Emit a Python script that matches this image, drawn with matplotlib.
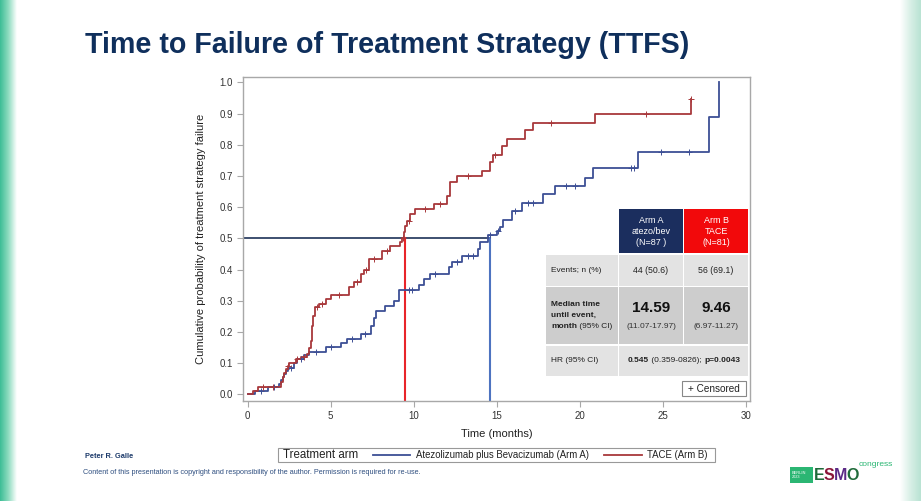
import numpy as np
import matplotlib
matplotlib.use("Agg")
import matplotlib.pyplot as plt
from matplotlib.patches import Rectangle
from matplotlib.colors import LinearSegmentedColormap

# ---------------- data ----------------
tace_t = [0, 0.3, 0.6, 2.0, 2.1, 2.2, 2.3, 2.4, 2.5, 2.9, 3.2, 3.6, 3.7, 3.8, 3.9, 3.95,
          4.05, 4.3, 4.7, 5.0, 6.1, 6.4, 6.8, 7.0, 7.3, 8.1, 8.6, 9.15, 9.3, 9.4, 9.5,
          9.6, 9.8, 10.05, 11.2, 12.0, 12.2, 12.6, 14.1, 14.6, 14.8, 15.3, 15.6, 16.7,
          17.2, 20.9, 26.7]
tace_p = [0, 0.012, 0.025, 0.04, 0.055, 0.07, 0.08, 0.09, 0.10, 0.115, 0.12, 0.13, 0.15,
          0.17, 0.22, 0.25, 0.28, 0.29, 0.305, 0.32, 0.345, 0.36, 0.385, 0.40, 0.435,
          0.46, 0.476, 0.49, 0.50, 0.52, 0.54, 0.556, 0.577, 0.593, 0.61, 0.636, 0.68,
          0.70, 0.716, 0.745, 0.767, 0.795, 0.82, 0.847, 0.87, 0.90, 0.946]
tace_cens = [0.9, 1.5, 2.45, 3.0, 3.4, 4.15, 4.5, 5.5, 6.6, 7.15, 7.6, 8.4, 9.35, 9.7,
             10.7, 11.6, 13.3, 14.9, 18.3, 24.0, 26.7]

atezo_t = [0, 0.42, 1.2, 1.9, 2.0, 2.1, 2.2, 2.3, 2.4, 2.5, 2.8, 3.0, 3.4, 3.7, 4.7, 5.6,
           6.0, 6.8, 7.4, 7.6, 7.7, 8.3, 8.8, 9.1, 10.3, 10.6, 11.0, 12.1, 12.3, 12.9,
           13.9, 14.0, 14.45, 15.0, 15.2, 15.4, 15.9, 16.5, 17.8, 18.5, 20.3, 20.8, 23.5,
           27.8, 28.4]
atezo_p = [0, 0.01, 0.023, 0.035, 0.045, 0.055, 0.065, 0.075, 0.08, 0.085, 0.10, 0.115,
           0.125, 0.135, 0.151, 0.164, 0.178, 0.194, 0.22, 0.245, 0.268, 0.284, 0.30,
           0.334, 0.351, 0.37, 0.386, 0.407, 0.423, 0.444, 0.466, 0.487, 0.51, 0.524,
           0.535, 0.56, 0.588, 0.614, 0.642, 0.668, 0.694, 0.726, 0.776, 0.889, 1.0]
atezo_cens = [0.8, 1.6, 2.6, 3.2, 4.1, 5.0, 6.3, 7.05, 9.7, 9.9, 11.3, 12.6, 13.3, 13.6,
              14.6, 15.1, 16.1, 16.9, 17.2, 19.2, 19.7, 23.1, 23.3, 24.9, 26.6]

median_a = 14.59
median_b = 9.46

x_ticks = [0, 5, 10, 15, 20, 25, 30]
y_ticks = [0.0, 0.1, 0.2, 0.3, 0.4, 0.5, 0.6, 0.7, 0.8, 0.9, 1.0]

title = "Time to Failure of Treatment Strategy (TTFS)"
x_label = "Time (months)"
y_label = "Cumulative probability of treatment strategy failure"
legend_title = "Treatment arm"
series_names = ["Atezolizumab plus Bevacizumab (Arm A)", "TACE (Arm B)"]
header_a = "Arm A\natezo/bev\n(N=87 )"
header_b = "Arm B\nTACE\n(N=81)"
events_a, events_b = "44 (50.6)", "56 (69.1)"
med_a_txt, med_b_txt = "14.59", "9.46"
ci_a_txt, ci_b_txt = "(11.07-17.97)", "(6.97-11.27)"

# ---------------- style ----------------
BLUE = "#3d4f95"
RED = "#a8383b"
VRED = "#e8252a"
VBLUE = "#4d73c0"
NAVY = "#1c3157"
plt.rcParams['font.family'] = ["Liberation Sans", "DejaVu Sans"]

W, H = 921, 501
fig = plt.figure(figsize=(W / 100, H / 100), dpi=100)
fig.patch.set_facecolor("white")

# background decor (pixel coordinates)
bg = fig.add_axes([0, 0, 1, 1], zorder=0)
grad = np.linspace(0, 1, 64)[None, :]
cm_l = LinearSegmentedColormap.from_list("l", ["#3dbd96", "#8fdcc0", "#ffffff"])
bg.imshow(grad, extent=[0, 16, H, 0], cmap=cm_l, aspect="auto", zorder=0)
cm_r = LinearSegmentedColormap.from_list("r", ["#ffffff", "#d8efe6", "#b9e3d3"])
bg.imshow(grad, extent=[900, W, H, 0], cmap=cm_r, aspect="auto", zorder=0)
bg.set_xlim(0, W)
bg.set_ylim(H, 0)
bg.axis("off")

bg.text(85, 45, title, fontsize=20.6, fontweight="bold", color="#0f2f5c",
        va="center", ha="left")
bg.text(85, 456, "Peter R. Galle", fontsize=5.3, fontweight="bold", color="#1d3b6b",
        va="center")
bg.text(83, 473, "Content of this presentation is copyright and responsibility of the author. "
        "Permission is required for re-use.", fontsize=5.2, color="#2f4f80",
        va="center")

renderer = fig.canvas.get_renderer()

# ESMO logo
bg.add_patch(Rectangle((790, 467), 23, 16, facecolor="#2bb673", edgecolor="none"))
bg.text(792, 475, "BERLIN\n2023", fontsize=2.8, color="white", va="center",
        linespacing=1.0)
xx = 814
for ch, col in [("E", "#1f6b3a"), ("S", "#8a1538"), ("M", "#5b2a86"), ("O", "#1f6b3a")]:
    t = bg.text(xx, 476, ch, fontsize=11.5, fontweight="bold", color=col,
                va="center", ha="left")
    xx += t.get_window_extent(renderer).width - 1
bg.text(xx + 1, 464, "congress", fontsize=6, color="#2bb673", va="center")

# ---------------- main axes ----------------
L, R, T, B = 242.7, 750, 76.7, 401
ax = fig.add_axes([L / W, 1 - B / H, (R - L) / W, (B - T) / H], zorder=1)
ax.set_facecolor("white")
ax.set_xlim(-0.3, 30.26)
ax.set_ylim(-0.021, 1.018)


def step_at(ts, ps, tc):
    idx = np.searchsorted(np.asarray(ts), np.asarray(tc), side="right") - 1
    return np.asarray(ps)[idx]


ax.step(atezo_t, atezo_p, where="post", color=BLUE, lw=1.3, zorder=3)
ax.step(tace_t, tace_p, where="post", color=RED, lw=1.3, zorder=3)
ax.plot(atezo_cens, step_at(atezo_t, atezo_p, atezo_cens), ls="none", marker="+",
        ms=4, mew=0.7, color=BLUE, zorder=4)
ax.plot(tace_cens, step_at(tace_t, tace_p, tace_cens), ls="none", marker="+",
        ms=4, mew=0.7, color=RED, zorder=4)

ax.plot([ax.get_xlim()[0], median_a], [0.5, 0.5], color=NAVY, lw=1.2, zorder=2)
ax.plot([median_b, median_b], [ax.get_ylim()[0], 0.5], color=VRED, lw=1.5, zorder=2)
ax.plot([median_a, median_a], [ax.get_ylim()[0], 0.5], color=VBLUE, lw=1.5, zorder=2)

ax.set_xticks(x_ticks)
ax.set_yticks(y_ticks)
ax.set_yticklabels([f"{v:.1f}" for v in y_ticks])
for s in ax.spines.values():
    s.set_color("#a8a8a8")
    s.set_linewidth(1.0)
ax.tick_params(direction="out", length=4, width=0.8, color="#a8a8a8",
               labelsize=7, labelcolor="#333333", pad=3)
ax.set_xlabel(x_label, fontsize=8, color="#222222", labelpad=6)
ax.set_ylabel(y_label, fontsize=8, color="#222222", labelpad=10)

# ---------------- overlay (table, legend) ----------------
ov = fig.add_axes([0, 0, 1, 1], zorder=5)
ov.set_xlim(0, W)
ov.set_ylim(H, 0)
ov.axis("off")
ov.patch.set_alpha(0)


def rich(x, y, pieces, size, ha="left", color="#222222"):
    widths = []
    for txt, wt in pieces:
        t = ov.text(0, y, txt, fontsize=size, fontweight=wt, va="center", color=color)
        widths.append(t.get_window_extent(renderer).width)
        t.remove()
    total = sum(widths)
    x0 = x - total / 2 if ha == "center" else x
    for (txt, wt), w in zip(pieces, widths):
        ov.text(x0, y, txt, fontsize=size, fontweight=wt, va="center", color=color)
        x0 += w


LIGHT = "#e3e3e3"
DARK = "#cdcdcd"
# headers
ov.add_patch(Rectangle((619.3, 209.3), 63.4, 44, facecolor="#1b2e5e", edgecolor="none"))
ov.add_patch(Rectangle((684, 209.3), 64.3, 44, facecolor="#f2090b", edgecolor="none"))
ov.text(651, 231.5, header_a, fontsize=6.5, color="white", ha="center", va="center",
        linespacing=1.35)
ov.text(716, 231.5, header_b, fontsize=6.5, color="white", ha="center", va="center",
        linespacing=1.35)
# rows
for y0, y1, col in [(255, 285.5, LIGHT), (287.3, 344.3, DARK), (346, 375.7, LIGHT)]:
    ov.add_patch(Rectangle((546, y0), 72.3, y1 - y0, facecolor=col, edgecolor="none"))
    ov.add_patch(Rectangle((619.3, y0), 63.4, y1 - y0, facecolor=col, edgecolor="none"))
    ov.add_patch(Rectangle((684, y0), 64.3, y1 - y0, facecolor=col, edgecolor="none"))
ov.add_patch(Rectangle((619.3, 346), 129, 29.7, facecolor=LIGHT, edgecolor="none"))

ov.text(551, 270.5, "Events; n (%)", fontsize=6, color="#222", va="center")
ov.text(651, 270.5, events_a, fontsize=6.3, color="#222", ha="center", va="center")
ov.text(716, 270.5, events_b, fontsize=6.3, color="#222", ha="center", va="center")

rich(551, 304, [("Median time", "bold")], 6)
rich(551, 315.5, [("until event,", "bold")], 6)
rich(551, 327, [("month", "bold"), (" (95% CI)", "normal")], 6)
ov.text(651, 308, med_a_txt, fontsize=11, fontweight="bold", color="#111", ha="center",
        va="center")
ov.text(716, 308, med_b_txt, fontsize=11, fontweight="bold", color="#111", ha="center",
        va="center")
ov.text(651, 327, ci_a_txt, fontsize=6, color="#333", ha="center", va="center")
ov.text(716, 327, ci_b_txt, fontsize=6, color="#333", ha="center", va="center")

ov.text(551, 361, "HR (95% CI)", fontsize=6, color="#222", va="center")
rich(684, 361, [("0.545", "bold"), (" (0.359-0826); ", "normal"), ("p=0.0043", "bold")],
     6, ha="center")

# censored box
ov.add_patch(Rectangle((681.7, 381), 64.3, 14.7, facecolor="white", edgecolor="#888888",
                       lw=0.8))
ov.text(714, 388.5, "+ Censored", fontsize=7.2, color="#222", ha="center", va="center")

# legend
ov.add_patch(Rectangle((278, 448), 437, 14, facecolor="white", edgecolor="#999999",
                       lw=0.8))
ov.text(283, 455, legend_title, fontsize=8.3, color="#222", va="center")
ov.plot([373, 410], [455, 455], color=BLUE, lw=1.3)
ov.text(416, 455, series_names[0], fontsize=6.9, color="#222", va="center")
ov.plot([604, 642], [455, 455], color=RED, lw=1.3)
ov.text(647, 455, series_names[1], fontsize=6.9, color="#222", va="center")

fig.savefig("out.png", dpi=100, facecolor="white")
